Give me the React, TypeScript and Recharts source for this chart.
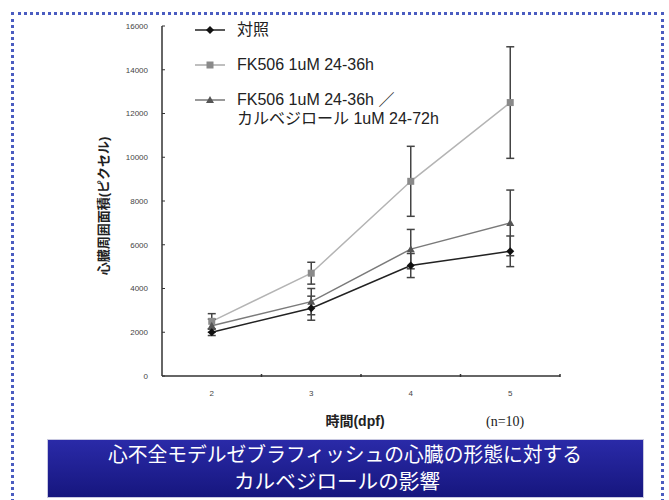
import React from "react";
import { LineChart, Line, XAxis, YAxis, ErrorBar } from "recharts";

const days = [2, 3, 4, 5];
const controlMean = [2000, 3100, 5050, 5700];
const controlErr = [150, 550, 550, 700];
const fkMean = [2500, 4700, 8900, 12500];
const fkErr = [350, 500, 1600, 2550];
const carvMean = [2300, 3400, 5800, 7000];
const carvErr = [300, 600, 900, 1500];
const yTicks = [0, 2000, 4000, 6000, 8000, 10000, 12000, 14000, 16000];
// integer ticks carry labels, half ticks mark the category boundaries
const xTicks = [2, 2.5, 3, 3.5, 4, 4.5, 5, 5.5];

const data = days.map((d, i) => ({
  day: d,
  control: controlMean[i],
  controlErr: controlErr[i],
  fk: fkMean[i],
  fkErr: fkErr[i],
  carv: carvMean[i],
  carvErr: carvErr[i],
}));

const FONT = "'Liberation Sans', Arial, 'Noto Sans CJK JP', sans-serif";

const Diamond = (p: any) => {
  const { cx, cy, key } = p;
  if (cx == null) return <g key={key} />;
  return <polygon key={key} points={`${cx},${cy - 4} ${cx + 4},${cy} ${cx},${cy + 4} ${cx - 4},${cy}`} fill="#111" />;
};
const Square = (p: any) => {
  const { cx, cy, key } = p;
  if (cx == null) return <g key={key} />;
  return <rect key={key} x={cx - 3.5} y={cy - 3.5} width={7} height={7} fill="#8a8a8a" />;
};
const Tri = (p: any) => {
  const { cx, cy, key } = p;
  if (cx == null) return <g key={key} />;
  return <polygon key={key} points={`${cx},${cy - 4} ${cx + 4},${cy + 3} ${cx - 4},${cy + 3}`} fill="#555" />;
};

const XTick = (p: any) => {
  const { x, y, payload } = p;
  if (payload.value % 1 !== 0) {
    return <line x1={x} x2={x} y1={y - 2} y2={y + 1} stroke="#333" strokeWidth={1.5} />;
  }
  return (
    <text x={x} y={y + 20} textAnchor="middle" fontSize={8} fill="#444" fontFamily={FONT}>
      {payload.value}
    </text>
  );
};

const LegendMark = ({ kind }: { kind: string }) => (
  <svg width={30} height={10} style={{ position: "absolute", left: 0, top: -5 }}>
    <line x1={0} x2={30} y1={5} y2={5} stroke={kind === "c" ? "#222" : kind === "f" ? "#aaa" : "#777"} strokeWidth={1.5} />
    {kind === "c" && <polygon points="15,1 19,5 15,9 11,5" fill="#111" />}
    {kind === "f" && <rect x={11.5} y={1.5} width={7} height={7} fill="#8a8a8a" />}
    {kind === "t" && <polygon points="15,1 19,8 11,8" fill="#555" />}
  </svg>
);

export default function App() {
  const legendText: React.CSSProperties = {
    position: "absolute",
    left: 42,
    fontSize: 16,
    color: "#222",
    fontFamily: FONT,
    whiteSpace: "nowrap",
    lineHeight: "18px",
  };
  return (
    <div style={{ position: "absolute", left: 0, top: 0, width: 669, height: 500, background: "#fff", overflow: "hidden" }}>
      <div
        style={{
          position: "absolute",
          left: 11,
          top: 12,
          width: 647,
          height: 520,
          border: "3px dotted #4a5cc0",
        }}
      />
      <div style={{ position: "absolute", left: 0, top: 0 }}>
        <LineChart width={669} height={500} data={data} margin={{ top: 26, right: 109, bottom: 94, left: 112 }}>
          <XAxis
            dataKey="day"
            type="number"
            domain={[1.5, 5.5]}
            ticks={xTicks}
            interval={0}
            tickLine={false}
            tickSize={0}
            tickMargin={0}
            tick={(p: any) => <XTick {...p} />}
            height={30}
            axisLine={{ stroke: "#333", strokeWidth: 1.5 }}
            label={{
              value: "時間(dpf)",
              position: "bottom",
              offset: 10,
              dx: -6,
              style: { fontSize: 14, fontWeight: "bold", fill: "#222", fontFamily: FONT },
            }}
          />
          <YAxis
            domain={[0, 16000]}
            ticks={yTicks}
            interval={0}
            width={50}
            tickSize={-3}
            tickMargin={17}
            tick={{ fontSize: 8, fill: "#444", fontFamily: FONT }}
            axisLine={{ stroke: "#333", strokeWidth: 1.5 }}
            tickLine={{ stroke: "#333" }}
            label={{
              value: "心臓周囲面積(ピクセル)",
              angle: -90,
              position: "insideLeft",
              offset: -9,
              dy: 5,
              style: { textAnchor: "middle", fontSize: 13, fontWeight: "bold", fill: "#222", fontFamily: FONT },
            }}
          />
          <Line dataKey="fk" stroke="#b4b4b4" strokeWidth={1.5} dot={Square} activeDot={false} isAnimationActive={false}>
            <ErrorBar dataKey="fkErr" width={4} stroke="#444" strokeWidth={1.5} />
          </Line>
          <Line dataKey="carv" stroke="#7a7a7a" strokeWidth={1.5} dot={Tri} activeDot={false} isAnimationActive={false}>
            <ErrorBar dataKey="carvErr" width={4} stroke="#444" strokeWidth={1.5} />
          </Line>
          <Line dataKey="control" stroke="#222" strokeWidth={1.5} dot={Diamond} activeDot={false} isAnimationActive={false}>
            <ErrorBar dataKey="controlErr" width={4} stroke="#444" strokeWidth={1.5} />
          </Line>
        </LineChart>
      </div>

      <div style={{ position: "absolute", left: 195, top: 30 }}>
        <LegendMark kind="c" />
        <div style={{ ...legendText, top: -9 }}>対照</div>
      </div>
      <div style={{ position: "absolute", left: 195, top: 65 }}>
        <LegendMark kind="f" />
        <div style={{ ...legendText, top: -9 }}>FK506 1uM 24-36h</div>
      </div>
      <div style={{ position: "absolute", left: 195, top: 100 }}>
        <LegendMark kind="t" />
        <div style={{ ...legendText, top: -9 }}>FK506 1uM 24-36h ／</div>
        <div style={{ ...legendText, top: 10 }}>カルベジロール 1uM 24-72h</div>
      </div>

      <div
        style={{
          position: "absolute",
          left: 486,
          top: 414,
          fontSize: 14,
          fontFamily: "'Liberation Serif', 'DejaVu Serif', serif",
          color: "#222",
        }}
      >
        (n=10)
      </div>

      <div
        style={{
          position: "absolute",
          left: 48,
          top: 440,
          width: 595,
          height: 57,
          background: "linear-gradient(#2a2aa8, #16167e)",
          boxShadow: "0 0 0 1px #c8c8e0",
        }}
      >
        <svg width={595} height={57}>
          <text
            x={297}
            y={22}
            textAnchor="middle"
            fill="#fff"
            fontSize={20}
            fontFamily="'Noto Sans CJK JP', sans-serif"
            textLength={474}
            lengthAdjust="spacingAndGlyphs"
          >
            心不全モデルゼブラフィッシュの心臓の形態に対する
          </text>
          <text
            x={289}
            y={49}
            textAnchor="middle"
            fill="#fff"
            fontSize={20}
            fontFamily="'Noto Sans CJK JP', sans-serif"
            textLength={206}
            lengthAdjust="spacingAndGlyphs"
          >
            カルベジロールの影響
          </text>
        </svg>
      </div>
    </div>
  );
}
